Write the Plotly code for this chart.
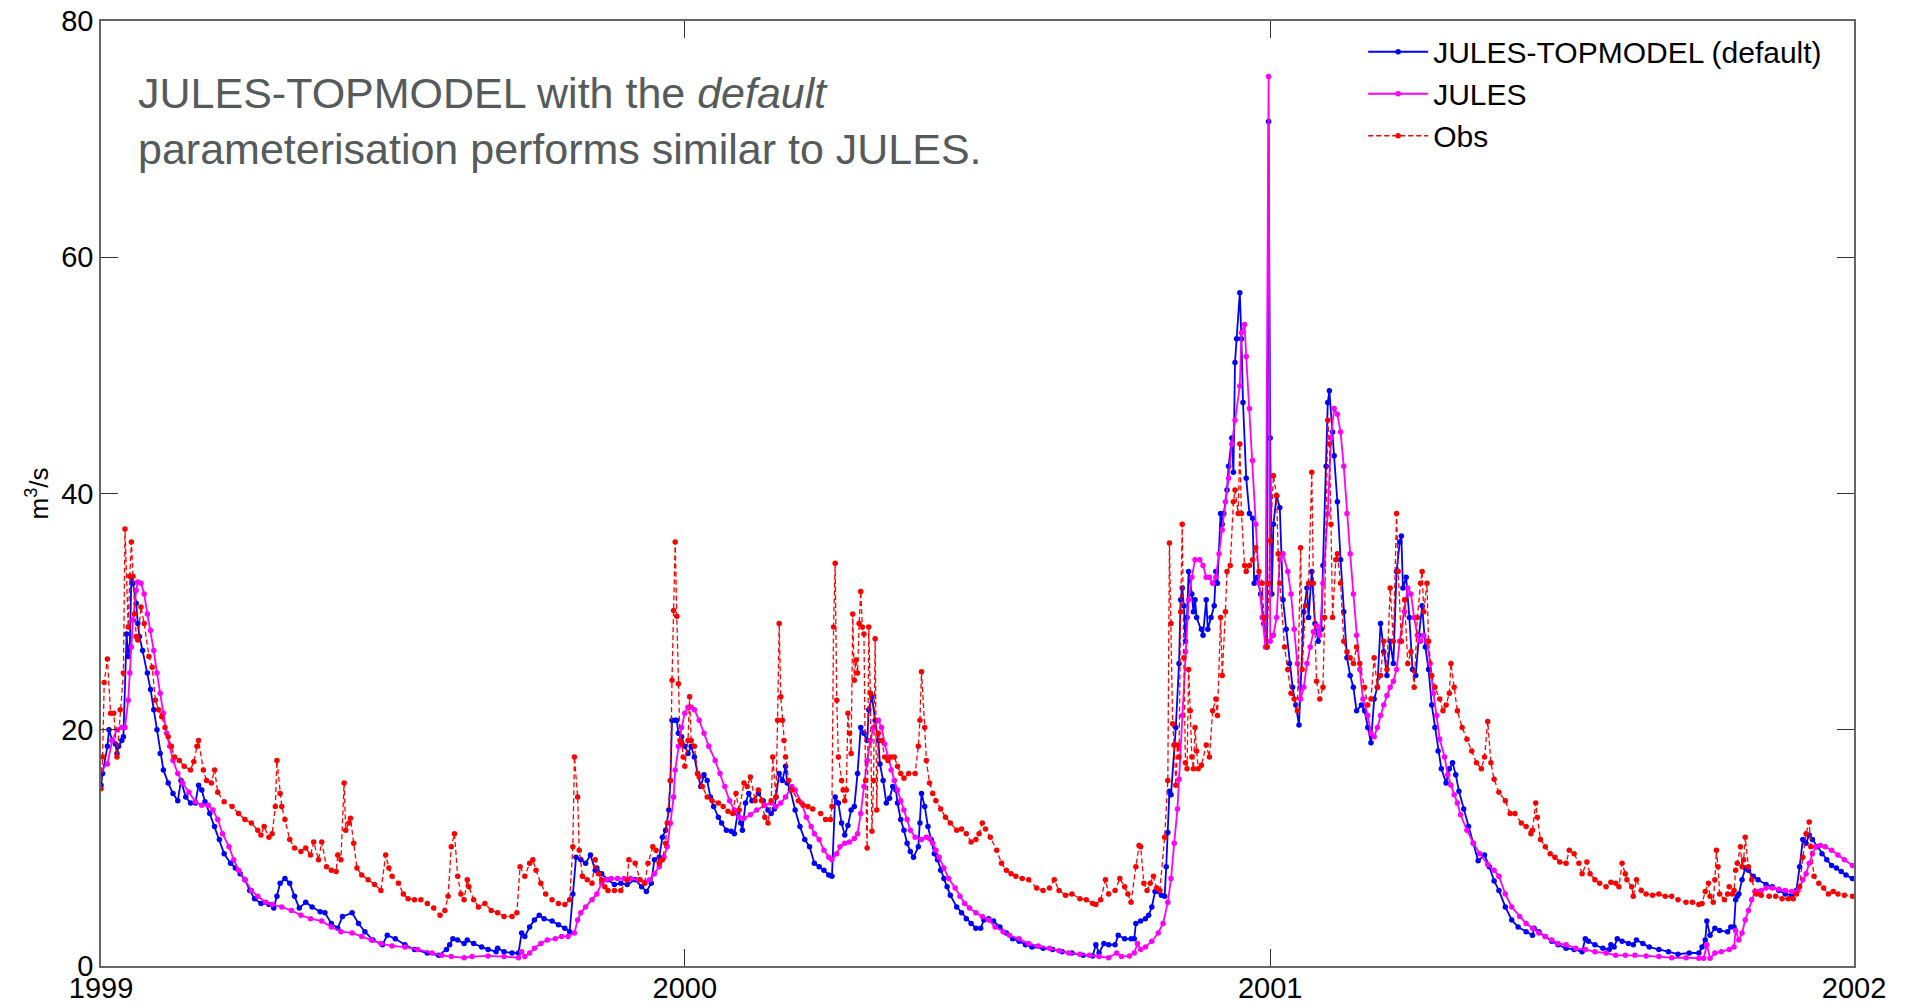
import pandas as pd
import plotly.graph_objects as go

# Daily river discharge (m3/s), 1999-2001. Days are counted from 1 Jan 1999.
START = pd.Timestamp("1999-01-01")

jt_day = [
    0, 1, 4, 5, 7, 9, 10, 11, 13, 14, 16, 17, 18, 19, 20, 22, 23, 24, 26, 29,
    31, 33, 35, 37, 39, 42, 45, 48, 50, 53, 56, 59, 61, 63, 65, 68, 71, 74, 77, 81,
    84, 87, 90, 93, 96, 100, 105, 108, 110, 112, 115, 118, 121, 124, 128, 132, 137, 140, 144, 148,
    151, 157, 161, 165, 170, 176, 179, 184, 190, 196, 204, 211, 216, 218, 220, 223, 227,
    229, 233, 238, 242, 247, 248, 252, 257, 261, 263, 265, 268, 271, 274, 277, 282, 286, 290, 293,
    295, 297, 300, 303, 306, 309, 310, 313, 317, 321, 325, 329, 334, 338, 341, 344, 346, 349, 351, 353,
    355, 356, 357, 359, 360, 361, 363, 365, 367, 369, 371, 373, 375, 377, 379, 381, 383, 386, 388, 391,
    394, 396, 398, 400, 401, 403, 405, 407, 411, 414, 417, 419, 421, 422, 424, 426, 428, 429, 431, 434,
    437, 440,
    443, 446, 449, 452, 455, 457, 459, 461, 463, 465, 467, 469, 471, 473, 475, 477, 479, 480, 482, 484,
    486, 487, 489, 491, 493, 495, 497, 498, 500, 502, 504, 506, 508, 511, 512, 513, 515, 517, 519, 521,
    523, 525, 527, 529, 531, 535, 538, 541, 544, 547, 550, 552, 555, 558, 562, 566, 570, 574, 578, 582,
    589, 595, 601, 607, 614, 620, 622, 624, 627, 630, 634, 636, 640, 644, 646, 647, 650, 653, 655, 657,
    659, 663, 665, 666, 667, 668, 669, 671, 672, 674, 675, 676, 677, 678, 679, 680, 682, 683, 684, 685,
    688, 689, 691, 692, 694, 696, 697, 698, 700, 701, 702, 704, 705, 707, 708, 709, 710, 712, 713, 714,
    716, 718, 720, 721, 723, 725, 727, 729, 730, 731, 732, 733, 735, 737, 739, 741, 743, 745, 747, 749,
    750, 752, 754, 755, 757, 759, 761, 763, 764, 766, 767, 768, 770, 771, 773, 775, 777, 779, 781, 783,
    785, 788, 790, 792, 794, 796, 798, 800, 802, 804, 806, 808, 810, 812, 813, 814, 816, 818, 820, 822,
    824, 826, 828, 830, 832, 834, 836, 838, 841, 843, 845, 847, 849, 852, 855, 858, 861, 865, 868, 871,
    874, 878, 882, 886, 891, 895, 896, 899, 903, 907, 911, 916, 921, 926, 928, 930, 934, 939, 943, 944,
    946, 948, 951, 955, 958, 960, 964, 968, 974, 980, 986, 993, 999, 1001, 1003, 1004, 1006, 1009, 1012, 1017,
    1019, 1021, 1022, 1023, 1024, 1026, 1028, 1030, 1033, 1036, 1041, 1045, 1049, 1053, 1057, 1060, 1062, 1064, 1066, 1068,
    1070, 1073, 1076, 1079, 1082, 1085, 1088, 1091, 1095,
]
jt_q = [
    15.3, 16.3, 18.6, 20.0, 19.1, 18.8, 18.0, 18.6, 19.1, 19.4, 28.1, 26.2, 27.0, 32.9, 32.4, 30.7, 29.0, 27.9, 26.7, 24.8,
    23.4, 21.7, 20.0, 18.0, 16.6, 15.5, 14.6, 14.0, 15.7, 14.3, 13.8, 13.8, 15.3, 14.9, 13.9, 12.9, 11.8, 10.7, 9.5, 8.7,
    8.3, 7.8, 7.3, 6.4, 5.7, 5.3, 5.2, 4.9, 5.9, 7.0, 7.4, 7.0, 5.9, 4.9, 5.4, 5.0, 4.6, 4.5, 3.6, 3.2,
    4.2, 4.5, 3.6, 2.9, 2.2, 1.8, 2.6, 2.3, 1.8, 1.4, 1.1, 0.9, 1.4, 1.8, 2.3, 2.2, 1.9,
    2.2, 1.9, 1.6, 1.4, 1.2, 1.5, 1.2, 1.1, 1.1, 2.8, 2.5, 3.3, 3.9, 4.3, 4.0, 3.8, 3.5, 3.2, 2.9,
    6.1, 9.2, 9.0, 8.7, 9.4, 8.1, 8.3, 7.8, 7.3, 6.9, 7.0, 6.9, 7.3, 6.7, 6.3, 7.0, 9.0, 9.2, 10.9, 11.5,
    13.2, 15.7, 20.8, 20.8, 20.8, 19.7, 19.4, 18.6, 18.0, 18.6, 17.7, 16.3, 15.2, 16.2, 15.7, 14.3, 13.5, 12.6, 12.1, 11.5,
    11.4, 11.2, 12.9, 12.1, 11.5, 13.8, 14.6, 14.0, 14.6, 14.0, 13.2, 12.9, 13.3, 14.3, 16.3, 15.7, 16.9, 15.5, 14.9, 13.2,
    11.8, 10.7,
    10.1, 8.7, 8.4, 8.1, 7.7, 7.6, 14.3, 13.8, 12.1, 11.1, 11.9, 13.2, 13.5, 16.3, 20.2, 19.7, 19.1, 21.7, 22.8, 20.8,
    19.1, 17.1, 15.7, 13.8, 14.2, 15.2, 14.9, 13.8, 12.4, 11.5, 10.4, 9.7, 9.2, 10.1, 12.1, 14.6, 13.5, 11.8, 10.7, 9.5,
    9.0, 8.1, 7.4, 6.7, 6.0, 5.0, 4.5, 4.0, 3.6, 3.2, 3.2, 3.9, 4.0, 3.8, 3.3, 2.8, 2.3, 2.1, 1.8, 1.6,
    1.5, 1.4, 1.2, 1.1, 0.9, 0.85, 1.8, 1.1, 1.9, 1.8, 1.8, 2.6, 2.3, 2.3, 2.3, 3.6, 3.8, 4.0, 4.3, 5.0,
    6.3, 6.0, 5.9, 8.4, 11.3, 14.8, 14.5, 18.7, 20.2, 25.6, 31.0, 32.0, 30.5, 27.5, 29.5, 33.4, 31.5, 30.0, 31.0, 29.5,
    28.5, 28.0, 31.0, 28.5, 29.5, 30.5, 33.4, 32.4, 38.3, 37.4, 38.3, 40.3, 42.3, 44.7, 41.8, 51.1, 53.1, 57.0, 53.1, 47.7,
    41.3, 38.3, 37.9, 32.4, 32.9, 31.5, 29.0, 27.0, 71.5, 44.7, 31.5, 37.4, 39.8, 38.8, 31.0, 28.5, 25.6, 23.6, 22.1, 20.4,
    23.6, 30.0, 32.0, 29.5, 33.4, 29.0, 27.5, 28.5, 33.9, 42.3, 47.7, 48.7, 45.2, 43.2, 39.3, 34.4, 30.0, 26.1, 24.6, 23.6,
    21.6, 22.1, 21.6, 20.2, 18.9, 22.6, 23.6, 29.0, 26.6, 24.6, 27.5, 25.6, 33.4, 35.9, 36.4, 32.0, 32.9, 29.5, 25.1, 24.6,
    28.0, 30.5, 27.0, 25.1, 22.1, 20.2, 18.2, 16.7, 15.5, 16.7, 17.2, 16.2, 14.8, 13.3, 11.8, 10.4, 8.9, 9.4, 8.4, 7.2,
    6.4, 5.0, 3.9, 3.3, 2.9, 2.6, 3.2, 2.9, 2.5, 2.1, 1.8, 1.5, 1.4, 1.2, 2.3, 2.1, 1.8, 1.5, 1.4, 1.8,
    1.6, 2.3, 2.1, 1.9, 1.8, 2.2, 1.9, 1.6, 1.4, 1.2, 1.0, 1.1, 1.1, 1.6, 2.2, 3.8, 2.6, 3.2, 3.0, 2.9,
    3.3, 3.3, 5.6, 5.9, 6.1, 7.3, 8.3, 8.1, 7.6, 7.3, 6.9, 6.7, 6.4, 6.1, 6.0, 6.4, 8.4, 10.7, 10.4, 11.1,
    10.7, 10.1, 9.5, 9.0, 8.5, 8.3, 8.0, 7.7, 7.4,
]

jules_day = [
    0, 4, 7, 10, 13, 15, 17, 18, 19, 20, 22, 23, 25, 27, 29, 31, 33, 35, 37, 39,
    41, 43, 45, 48, 51, 55, 59, 63, 67, 70, 73, 76, 80, 83, 86, 90, 94, 98, 103, 107,
    113, 119, 125, 131, 138, 144, 150, 157, 163, 169, 175, 182, 190, 198, 207, 213, 219, 227,
    232, 242, 252, 261, 263, 265, 268, 271, 275, 279, 284, 288, 292, 296, 298, 300, 303, 307, 310, 313,
    316, 319, 323, 327, 331, 336, 340, 343, 346, 349, 352, 354, 356, 358, 359, 361, 363, 365, 367, 369,
    371, 374, 377, 380, 384, 387, 390, 393, 396, 399, 402, 406, 410, 415, 419, 422, 425, 428, 432, 434,
    438, 441,
    444, 446, 449, 452, 455, 457, 460, 462, 465, 468, 471, 473, 475, 477, 479, 481, 483, 486, 488, 490,
    492, 494, 496, 498, 500, 502, 504, 506, 509, 513, 516, 518, 520, 522, 524, 527, 530, 534, 537, 540,
    543, 547, 551, 555, 559, 564, 568, 574, 580, 586, 593, 599, 605, 612, 618, 624, 630, 635, 638, 643,
    646, 648, 650, 653, 657, 661, 664, 667, 669, 671, 673, 674, 676, 678, 680, 682, 684, 687, 689, 691,
    693, 695, 697, 699, 701, 703, 705, 707, 709, 712, 713, 715, 716, 718, 720, 722, 724, 726, 728, 730,
    731, 733, 735, 737, 739, 742, 744, 746, 748, 750, 752, 754, 756, 758, 760, 762, 764, 767, 769, 771,
    773, 775, 777, 779, 781, 783, 785, 787, 789, 792, 794, 796, 798, 800, 802, 804, 806, 808, 810, 812,
    815, 817, 819, 821, 823, 825, 827, 829, 831, 833, 835, 837, 840, 842, 844, 846, 848, 850, 854, 858,
    862, 867, 871,
    874, 878, 882, 887, 891, 895, 899, 903, 907, 911, 916, 922, 928, 934, 941, 947, 953, 959, 966, 974,
    982, 991, 999, 1002, 1004, 1006, 1009, 1013, 1018, 1021, 1022, 1024, 1026, 1028, 1030, 1032, 1034, 1036, 1038, 1041,
    1045, 1049, 1053, 1057, 1061, 1064, 1066, 1068, 1070, 1072, 1075, 1078, 1082, 1086, 1090, 1095,
]
jules_q = [
    16.6, 17.1, 19.1, 20.0, 20.2, 20.2, 22.5, 24.8, 27.0, 29.3, 31.8, 32.5, 32.4, 31.5, 29.8, 28.4, 26.7, 24.8, 23.1, 21.4,
    19.7, 18.6, 17.4, 16.3, 15.5, 14.7, 13.9, 13.6, 13.6, 13.2, 12.4, 11.2, 10.1, 9.0, 8.1, 7.3, 6.4, 5.9, 5.4, 5.2,
    5.0, 4.7, 4.3, 4.0, 3.8, 3.3, 2.9, 2.8, 2.5, 2.2, 1.9, 1.7, 1.6, 1.4, 1.1, 0.9, 0.8, 0.7,
    0.8, 0.85, 0.8, 0.7, 1.2, 0.8, 1.1, 1.5, 1.9, 2.2, 2.3, 2.5, 2.5, 2.8, 3.9, 4.5, 5.0, 5.6, 6.1, 7.0,
    7.3, 7.4, 7.4, 7.4, 7.4, 7.3, 7.1, 7.3, 7.8, 8.4, 9.2, 10.1, 12.1, 14.3, 16.6, 18.6, 20.2, 21.4, 21.9, 21.9,
    21.7, 20.8, 19.7, 18.6, 17.4, 16.3, 15.2, 14.0, 13.2, 12.6, 12.5, 12.8, 13.2, 13.6, 13.8, 13.5, 13.8, 14.3, 15.2, 14.9,
    13.8, 12.6,
    11.8, 11.2, 10.7, 9.8, 9.2, 9.0, 9.5, 10.1, 10.4, 10.5, 10.8, 11.2, 12.9, 15.2, 17.4, 19.1, 20.2, 20.8, 20.2, 18.8,
    17.7, 16.6, 15.7, 14.9, 14.0, 13.2, 12.4, 11.5, 10.9, 10.7, 10.9, 10.8, 10.4, 9.8, 9.2, 8.3, 7.4, 6.6, 5.9, 5.3,
    4.9, 4.5, 4.2, 3.9, 3.3, 2.9, 2.6, 2.3, 1.9, 1.7, 1.5, 1.3, 1.1, 1.0, 0.9, 0.8, 0.7, 1.1, 0.8, 0.85,
    1.1, 1.9, 1.4, 1.6, 2.1, 2.8, 3.6, 5.4, 7.4, 10.4, 13.3, 15.8, 21.2, 26.6, 31.0, 32.9, 34.4, 34.4, 33.9, 32.9,
    32.9, 32.4, 32.9, 34.9, 36.9, 39.3, 41.3, 44.2, 46.2, 49.1, 53.6, 54.3, 51.6, 47.2, 42.8, 37.4, 32.4, 29.5, 27.0, 75.3,
    27.5, 28.0, 29.5, 34.4, 34.9, 33.4, 31.5, 28.5, 25.6, 22.6, 23.6, 25.6, 27.0, 28.3, 28.8, 28.0, 32.4, 38.3, 44.7, 47.2,
    46.7, 45.2, 42.3, 38.3, 34.9, 31.5, 28.0, 25.1, 22.6, 21.2, 19.7, 19.4, 20.2, 21.2, 22.1, 22.9, 23.6, 24.1, 25.1, 27.5,
    30.0, 32.0, 31.5, 29.5, 28.0, 27.5, 28.0, 27.5, 25.6, 23.1, 21.2, 19.2, 17.7, 16.2, 15.3, 14.5, 13.8, 12.8, 11.5, 10.4,
    9.5, 8.6, 8.1,
    7.6, 6.1, 5.0, 4.2, 3.6, 3.2, 2.8, 2.5, 2.2, 1.9, 1.8, 1.5, 1.4, 1.2, 1.1, 0.9, 0.9, 0.9, 0.85, 0.8,
    0.7, 0.7, 0.65, 0.65, 1.8, 0.65, 1.1, 1.2, 1.4, 1.6, 3.0, 2.2, 2.8, 3.9, 4.7, 5.6, 6.3, 6.3, 6.4, 6.6,
    6.6, 6.5, 6.4, 6.3, 6.4, 7.3, 7.8, 8.7, 9.5, 10.1, 10.2, 10.1, 9.8, 9.4, 9.0, 8.5,
]

obs_day = [
    0, 1, 2, 4, 6, 8, 10, 12, 14, 15, 17, 18, 19, 20, 21, 22, 23, 25, 27, 30,
    32, 34, 36, 38, 40, 42, 44, 46, 49, 52, 56, 58, 60, 61, 64, 66, 69, 71, 73, 77,
    82, 86, 90, 94, 98, 100, 102, 105, 107, 109, 110, 112, 113, 115, 118, 121, 125, 128, 131, 133,
    136, 138, 141, 144, 147, 148, 150, 152, 153, 155, 156, 158, 160, 163, 167, 171, 175, 178, 180, 182,
    186, 189, 192, 196, 200, 204, 208, 212, 215, 217, 219, 221, 223, 225, 227,
    229, 230, 233, 236, 240, 244, 248, 252, 257, 260, 262, 265, 268, 270, 272, 275, 278, 282, 286, 290,
    293, 295, 296, 298, 299, 301, 304, 307, 309, 311, 313, 315, 317, 321, 325, 329, 330, 334, 337, 340,
    342, 345, 347, 349, 351, 353, 354, 356, 357, 358, 359, 360, 361, 362, 363, 364, 365, 367, 368, 369,
    371, 373, 374, 376, 379, 382, 386, 389, 392, 395, 397, 399, 402, 404, 406, 409, 411, 413, 415, 417,
    419, 420, 422, 423, 424, 425, 426, 427, 428, 430, 432, 436, 439, 442,
    445, 450, 453, 456, 457, 458, 459, 460, 461, 463, 464, 465, 466, 467, 468, 469, 470, 471, 472, 473,
    474, 475, 476, 477, 478, 479, 480, 481, 482, 483, 484, 485, 486, 488, 490, 492, 494, 496, 498, 500,
    502, 505, 509, 511, 512, 513, 515, 516, 518, 520, 522, 525, 528, 531, 535, 538, 541, 544, 547, 549,
    551, 553, 556, 560, 563, 566, 569, 572, 576, 580, 585, 589, 593, 596, 599, 603, 607, 612, 616, 620,
    622, 625, 628, 630, 634, 637, 640, 642, 644, 647, 649, 650, 652, 654, 656, 658, 660, 662, 665, 667,
    668, 669, 670, 671, 672, 673, 674, 675, 676, 677, 678, 679, 680, 681, 682, 683, 684, 685, 686, 688,
    691, 693, 695, 697, 698, 700, 701, 703, 704, 706, 708, 709, 711, 712, 713, 715, 716, 718, 720, 722,
    724, 726, 727, 729, 730, 731, 733, 735, 736, 737, 740, 742, 744, 746, 748, 750, 751, 753, 755, 757,
    758, 760, 762, 764, 765, 767, 768, 769, 770, 772, 773, 775, 777, 779, 781, 783, 785, 787, 790, 792,
    794, 796, 798, 800, 802, 804, 806, 808, 810, 811, 813, 815, 817, 819, 821, 823, 825, 826, 827, 829,
    830, 832, 834, 837, 839, 841, 843, 844, 846, 848, 851, 854, 857, 860, 863, 865, 867, 869, 871,
    874, 878, 881, 884, 888, 891, 894, 895, 897, 898, 900, 903, 906, 909, 912, 916, 918, 921, 924, 926,
    929, 931, 934, 937, 941, 944, 947, 949, 951, 953, 954, 957, 958, 960, 963, 966, 970, 974, 978, 982,
    986, 991, 995, 999, 1001, 1003, 1005, 1006, 1008, 1009, 1010, 1011, 1012, 1015, 1017, 1018, 1020, 1021, 1022, 1023,
    1025, 1026, 1027, 1028, 1030, 1032, 1035, 1038, 1043, 1047, 1051, 1055, 1058, 1060, 1062, 1064, 1066, 1068, 1069, 1071,
    1074, 1077, 1080, 1083, 1086, 1090, 1095,
]
obs_q = [
    15.0, 17.7, 24.0, 26.0, 21.4, 21.4, 17.7, 21.7, 24.8, 37.0, 28.7, 33.0, 35.9, 33.0, 29.8, 27.9, 27.6, 30.4, 29.0, 26.2,
    25.3, 22.5, 21.7, 21.1, 20.2, 19.4, 18.6, 17.7, 17.4, 16.9, 16.6, 17.3, 18.6, 19.1, 16.6, 15.7, 15.5, 16.6, 14.7, 13.9,
    13.5, 12.9, 12.4, 12.1, 11.5, 11.1, 11.8, 10.9, 11.2, 13.5, 17.4, 14.6, 13.5, 12.4, 10.7, 10.0, 9.7, 10.0, 9.4, 10.5,
    9.0, 10.5, 8.4, 8.1, 8.0, 9.4, 9.0, 15.5, 11.5, 12.1, 12.5, 10.4, 8.3, 7.7, 7.3, 6.9, 6.4, 9.4, 8.3, 7.6,
    7.0, 6.1, 5.7, 5.6, 5.6, 5.3, 4.9, 4.3, 4.7, 5.9, 10.1, 11.2, 7.6, 6.1, 5.6,
    7.3, 6.7, 5.6, 5.0, 5.3, 4.7, 4.5, 4.2, 4.2, 4.5, 8.4, 7.6, 8.7, 9.0, 8.1, 7.0, 6.1, 5.6, 5.3, 5.2,
    5.6, 10.1, 17.7, 14.3, 9.8, 7.6, 7.3, 7.0, 9.0, 7.8, 7.3, 6.7, 6.4, 6.4, 6.4, 7.3, 9.0, 8.7, 7.3, 7.0,
    8.7, 10.1, 9.8, 8.7, 9.0, 10.4, 12.1, 15.7, 24.2, 30.1, 35.9, 29.6, 23.9, 19.1, 18.8, 17.7, 16.9, 19.1, 22.8, 19.1,
    18.6, 16.3, 16.0, 15.2, 14.3, 14.0, 13.8, 13.5, 13.1, 12.9, 14.6, 13.2, 15.5, 15.2, 16.0, 14.0, 14.9, 14.0, 12.6, 12.1,
    14.0, 17.7, 14.3, 20.8, 29.0, 22.8, 20.8, 19.1, 17.7, 15.7, 14.9, 14.0, 13.6, 13.5,
    13.3, 12.9, 12.4, 12.4, 13.5, 28.7, 34.1, 22.5, 17.7, 15.7, 14.9, 14.0, 14.9, 21.4, 19.7, 18.0, 29.8, 24.2, 25.9, 24.8,
    29.0, 31.7, 28.7, 28.1, 15.7, 10.0, 28.7, 23.1, 11.4, 15.7, 27.7, 13.2, 19.7, 19.1, 17.7, 17.4, 17.7, 17.7, 16.9, 16.3,
    15.9, 16.3, 16.3, 18.6, 20.8, 24.9, 20.2, 17.4, 15.5, 14.6, 14.0, 13.3, 12.6, 12.1, 11.5, 11.6, 11.2, 10.5, 10.7, 11.2,
    12.1, 11.6, 10.9, 9.8, 8.7, 8.1, 7.8, 7.6, 7.4, 7.3, 6.6, 6.4, 6.6, 7.3, 6.4, 6.0, 6.1, 5.7, 5.6, 5.3,
    5.2, 5.6, 7.3, 6.1, 6.4, 7.4, 6.7, 6.1, 5.4, 8.4, 10.2, 10.1, 7.0, 6.4, 7.0, 7.6, 6.6, 6.4, 10.9, 15.7,
    35.8, 29.0, 20.5, 18.7, 15.3, 18.7, 17.7, 30.0, 37.4, 26.1, 17.2, 16.7, 25.1, 21.6, 17.7, 16.7, 20.2, 18.2, 16.7, 17.0,
    18.7, 17.7, 21.6, 22.6, 21.2, 29.5, 24.6, 30.0, 33.4, 33.9, 39.3, 40.3, 38.3, 44.2, 38.3, 33.9, 33.4, 33.9, 34.4, 35.4,
    33.4, 32.4, 29.5, 27.0, 32.4, 36.0, 41.5, 39.8, 34.9, 32.4, 27.0, 25.1, 23.1, 22.6, 21.6, 35.4, 25.1, 30.5, 32.4, 41.8,
    32.4, 24.1, 22.6, 23.6, 29.5, 46.2, 44.2, 37.4, 29.5, 34.4, 34.9, 32.4, 27.5, 26.6, 26.1, 25.6, 27.0, 25.6, 23.6, 22.1,
    22.6, 26.1, 23.6, 24.6, 27.5, 25.1, 32.0, 27.5, 38.3, 33.4, 27.5, 31.0, 25.6, 26.6, 23.6, 29.5, 32.4, 33.4, 30.0, 32.4,
    27.5, 24.6, 23.6, 22.6, 21.6, 22.1, 23.1, 25.6, 23.6, 21.6, 20.2, 19.2, 18.2, 17.2, 16.7, 17.7, 20.7, 17.2, 15.8,
    14.7, 14.0, 12.9, 12.9, 12.1, 11.8, 11.2, 11.5, 13.8, 12.6, 10.7, 10.1, 9.5, 9.2, 8.8, 8.7, 9.8, 9.5, 8.7, 7.8,
    8.8, 7.8, 7.3, 7.0, 6.7, 7.1, 7.0, 6.7, 8.7, 7.8, 7.3, 6.7, 5.9, 7.3, 6.4, 6.1, 6.0, 6.1, 5.9, 5.9,
    5.6, 5.4, 5.4, 5.2, 5.3, 6.3, 7.0, 5.9, 5.4, 7.3, 9.8, 8.4, 6.1, 5.6, 6.1, 6.7, 6.1, 6.4, 8.1, 8.7,
    10.1, 8.4, 9.0, 10.9, 8.4, 7.3, 6.1, 6.0, 5.9, 5.9, 5.7, 5.7, 5.7, 6.1, 6.7, 9.2, 11.2, 12.2, 10.1, 7.6,
    7.0, 6.6, 6.1, 6.3, 6.1, 6.0, 5.9,
]

year_ticks = ["1999-01-01", "2000-01-01", "2001-01-01", "2002-01-01"]
year_labels = ["1999", "2000", "2001", "2002"]


def to_dates(days):
    return START + pd.to_timedelta(days, unit="D")


FONT = "Liberation Sans, Arial, Helvetica, sans-serif"

fig = go.Figure()
fig.add_trace(go.Scatter(
    x=to_dates(jt_day), y=jt_q, name="JULES-TOPMODEL (default)",
    mode="lines+markers",
    line=dict(color="#0000ff", width=1.8),
    marker=dict(color="#0000ff", size=5.5),
))
fig.add_trace(go.Scatter(
    x=to_dates(jules_day), y=jules_q, name="JULES",
    mode="lines+markers",
    line=dict(color="#ff00ff", width=1.8),
    marker=dict(color="#ff00ff", size=5.5),
))
fig.add_trace(go.Scatter(
    x=to_dates(obs_day), y=obs_q, name="Obs",
    mode="lines+markers",
    line=dict(color="#ff0000", width=1.3, dash="5px,3px"),
    marker=dict(color="#ff0000", size=5.5),
))

fig.add_annotation(
    text="JULES-TOPMODEL with the <i>default</i><br>parameterisation performs similar to JULES.",
    xref="paper", yref="paper", x=0.02, y=0.951,
    xanchor="left", yanchor="top", align="left", showarrow=False,
    font=dict(family=FONT, size=43, color="#555a5a"),
)

fig.update_layout(
    width=1906, height=1008,
    margin=dict(l=101, r=52, t=21, b=42),
    paper_bgcolor="white", plot_bgcolor="white",
    font=dict(family=FONT, size=29, color="black"),
    showlegend=True,
    legend=dict(
        x=0.72, y=0.995, xanchor="left", yanchor="top",
        bgcolor="rgba(0,0,0,0)", font=dict(family=FONT, size=30, color="black"),
        tracegroupgap=0, itemwidth=60,
    ),
)
fig.update_xaxes(
    range=["1999-01-01", "2002-01-01"],
    tickvals=year_ticks, ticktext=year_labels,
    ticks="inside", ticklen=17, tickwidth=1.2, tickcolor="#333333",
    showline=True, linecolor="#666666", linewidth=1.5, mirror="ticks",
    showgrid=False, zeroline=False, automargin=False,
    ticklabelstandoff=-5,
    tickfont=dict(family=FONT, size=29, color="black"),
)
fig.update_yaxes(
    range=[0, 80], tick0=0, dtick=20,
    ticks="inside", ticklen=17, tickwidth=1.2, tickcolor="#333333",
    showline=True, linecolor="#666666", linewidth=1.5, mirror="ticks",
    showgrid=False, zeroline=False, automargin=False,
    tickfont=dict(family=FONT, size=29, color="black"),
    title=dict(text="m<sup>3</sup>/s", font=dict(family=FONT, size=26, color="black"), standoff=5),
)

fig.write_html("out.html")
